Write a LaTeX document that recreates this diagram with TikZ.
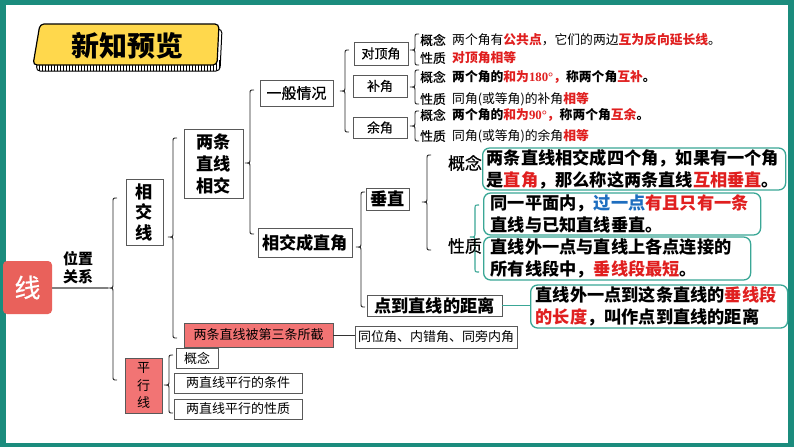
\documentclass[tikz,border=0pt]{standalone}
\usepackage{fontspec}
\setmainfont{Noto Sans CJK SC}
\newfontfamily\numfont{Liberation Serif}
\newfontfamily\medf{Noto Sans CJK SC}[FakeBold=0.6]
\definecolor{framec}{HTML}{1B8C7D}
\definecolor{tealb}{HTML}{3AA796}
\definecolor{redt}{HTML}{E01F1F}
\definecolor{bluet}{HTML}{1E6EBF}
\definecolor{salmon}{HTML}{F27474}
\definecolor{xianred}{HTML}{E9615B}
\definecolor{ybanner}{HTML}{FFD84C}
\newcommand\rtxt[1]{\textcolor{redt}{\bfseries #1}}
\newcommand\rc[1]{\textcolor{redt}{#1}}
% curly brace: x, top, mid, bottom, tipname
\newcommand\curlyb[5]{%
  \draw[brc] (#1+4,#2) .. controls (#1,#2) .. (#1,#2+4) -- (#1,#3-4)
    .. controls (#1,#3) .. (#1-5,#3) .. controls (#1,#3) .. (#1,#3+4)
    -- (#1,#4-4) .. controls (#1,#4) .. (#1+4,#4);
  \coordinate (#5) at (#1-5,#3);}
\begin{document}
\begin{tikzpicture}[x=1pt,y=-1pt,
  gbox/.style={draw=black!65, line width=0.8pt, fill=white, inner sep=0pt, text=black},
  pbox/.style={gbox, fill=salmon},
  tbox/.style={draw=tealb, line width=1.3pt, rounded corners=7pt, fill=white, align=left,
     inner ysep=0pt, anchor=west, font=\fontsize{17.2}{22}\selectfont\bfseries},
  brc/.style={draw=black!85, line width=0.9pt},
  f13/.style={font=\fontsize{13}{15}\selectfont},
  f17b/.style={font=\fontsize{17.2}{20}\selectfont\bfseries},
  small/.style={font=\fontsize{12.8}{15}\selectfont, inner sep=0pt, anchor=west},
  lab/.style={font=\fontsize{12.8}{15}\selectfont\medf, inner sep=0pt}]
% frame
\fill[framec] (0,0) rectangle (794,447);
\fill[white] (6,5) rectangle (788,443);
\useasboundingbox (0,0) rectangle (794,447);
% title banner
\filldraw[fill=white, draw=black, line width=1pt, rounded corners=4pt]
  (43,29) -- (222,29) -- (220,71) -- (36,71) -- cycle;
\begin{scope}
  \clip[rounded corners=4pt] (43,29) -- (222,29) -- (220,71) -- (36,71) -- cycle;
  \foreach \i in {30,33,...,225} \draw[line width=0.5pt] (\i,60) -- (\i,75);
\end{scope}
\filldraw[fill=ybanner, draw=black, line width=1.2pt, rounded corners=4pt]
  (40,24) -- (219,24) -- (217,65) -- (33,65) -- cycle;
\node[font=\fontsize{28}{28}\selectfont\bfseries] (title) at (127,46) {新知预览};
% root
\node[fill=xianred, rounded corners=4pt, minimum width=49, minimum height=53, inner sep=0pt,
  text=white, font=\fontsize{26}{26}\selectfont\medf] (xian) at (27.5,287.5) {线};
\node[font=\fontsize{15}{18}\selectfont\bfseries, align=center] (wzgx) at (78,268) {位置\\关系};
% level boxes
\node[gbox, minimum width=37, minimum height=66, align=center,
  font=\fontsize{17.2}{20.5}\selectfont\bfseries] (xjx) at (144.5,212) {相\\交\\线};
\node[pbox, minimum width=37, minimum height=55, align=center,
  font=\fontsize{13}{17.5}\selectfont] (pxx) at (143.5,385.5) {平\\行\\线};
\node[gbox, minimum width=59, minimum height=69, align=center,
  font=\fontsize{17.2}{22}\selectfont\bfseries] (ltzx) at (213.5,163.5) {两条\\直线\\相交};
\node[pbox, f13, minimum width=149, minimum height=24] (bjx) at (258.5,335) {两条直线被第三条所截};
\node[gbox, f13, minimum width=162, minimum height=22] (twj) at (436,337) {同位角、内错角、同旁内角};
\node[gbox, minimum width=73, minimum height=26, font=\fontsize{15}{15}\selectfont\medf] (ybqk) at (296.5,93) {一般情况};
\node[gbox, f17b, minimum width=94, minimum height=29] (xjczj) at (305,242.5) {相交成直角};
\node[gbox, minimum width=54, minimum height=23, font=\fontsize{13}{15}\selectfont\medf] (ddj) at (381,53.5) {对顶角};
\node[gbox, minimum width=54, minimum height=22, font=\fontsize{13}{15}\selectfont\medf] (bj) at (380,86) {补角};
\node[gbox, minimum width=54, minimum height=21, font=\fontsize{13}{15}\selectfont\medf] (yj) at (380,127.5) {余角};
\node[gbox, f17b, minimum width=43, minimum height=22] (cz) at (387.5,199) {垂直};
\node[gbox, f17b, minimum width=135, minimum height=21] (ddzx) at (434.5,305.5) {点到直线的距离};
\node[gbox, f13, minimum width=42, minimum height=20] (gn2) at (197,358) {概念};
\node[gbox, f13, minimum width=128, minimum height=20] (pxtj) at (238,383) {两直线平行的条件};
\node[gbox, f13, minimum width=128, minimum height=20] (pxxz) at (238,409) {两直线平行的性质};
% braces
\curlyb{113}{198}{288}{380}{b1}
\curlyb{173}{138}{237}{338}{b2}
\curlyb{250}{90}{163}{234}{b3}
\curlyb{345}{50}{91}{132}{b4}
\curlyb{361}{192}{247}{307}{b5}
\curlyb{427}{155}{202}{250}{b6}
\curlyb{169}{355}{385}{413}{b8}
\curlyb{415}{34}{50}{65}{b9}
\curlyb{415}{70}{87}{104}{b10}
\curlyb{415}{111}{126}{141}{b11}
\begin{scope}[brc/.style={draw=tealb, line width=1.1pt}]
\curlyb{475}{205}{237}{272}{b7}
\end{scope}
% connectors
\draw[black!50, line width=1.5pt] (xian.east |- b1) -- (b1);
\draw[black!80, line width=0.8pt] (bjx.east) -- (bjx.east -| twj.west);
% top-right detail
\node[lab] (l1) at (433,40) {概念};
\node[lab] (l2) at (433,58) {性质};
\node[lab] (l3) at (433,77) {概念};
\node[lab] (l4) at (433,99) {性质};
\node[lab] (l5) at (433,115) {概念};
\node[lab] (l6) at (433,136) {性质};
\node[small] (s1) at (452,40) {两个角有\rtxt{公共点}，它们的两边\rtxt{互为反向延长线}。};
\node[small] (s2) at (452,58) {\rtxt{对顶角相等}};
\node[small, font=\fontsize{12.8}{15}\selectfont\bfseries] (s3) at (452,77) {两个角的\rtxt{和为{\numfont 180°}，}称两个角\rtxt{互补}。};
\node[small] (s4) at (452,99) {同角(或等角)的补角\rtxt{相等}};
\node[small, font=\fontsize{12.8}{15}\selectfont\bfseries] (s5) at (452,115) {两个角的\rtxt{和为{\numfont 90°}，}称两个角\rtxt{互余}。};
\node[small] (s6) at (452,136) {同角(或等角)的余角\rtxt{相等}};
% mid labels
\node[font=\fontsize{17}{17}\selectfont\medf] (gn1) at (465,163) {概念};
\node[font=\fontsize{17}{17}\selectfont\medf] (xz1) at (465,246) {性质};
% teal boxes
\node[tbox, inner xsep=4pt, text width=295, minimum height=42] (ta) at (482,169)
  {两条直线相交成四个角，如果有一个角\\是\rc{直角}，那么称这两条直线\rc{互相垂直}。};
\node[tbox, inner xsep=7pt, text width=263, minimum height=42] (tb) at (483,214)
  {同一平面内，\textcolor{bluet}{过一点}\rc{有且只有一条}\\直线与已知直线垂直。};
\node[tbox, inner xsep=7pt, text width=253, minimum height=43] (tc) at (483,258.5)
  {直线外一点与直线上各点连接的\\所有线段中，\rc{垂线段最短}。};
\node[tbox, inner xsep=5pt, text width=247, minimum height=43] (td) at (530,306.5)
  {直线外一点到这条直线的\rc{垂线段}\\\rc{的长度}，叫作点到直线的距离};
\draw[tealb, line width=1.5pt] (ddzx.east) -- (ddzx.east -| td.west);
\end{tikzpicture}
\end{document}
